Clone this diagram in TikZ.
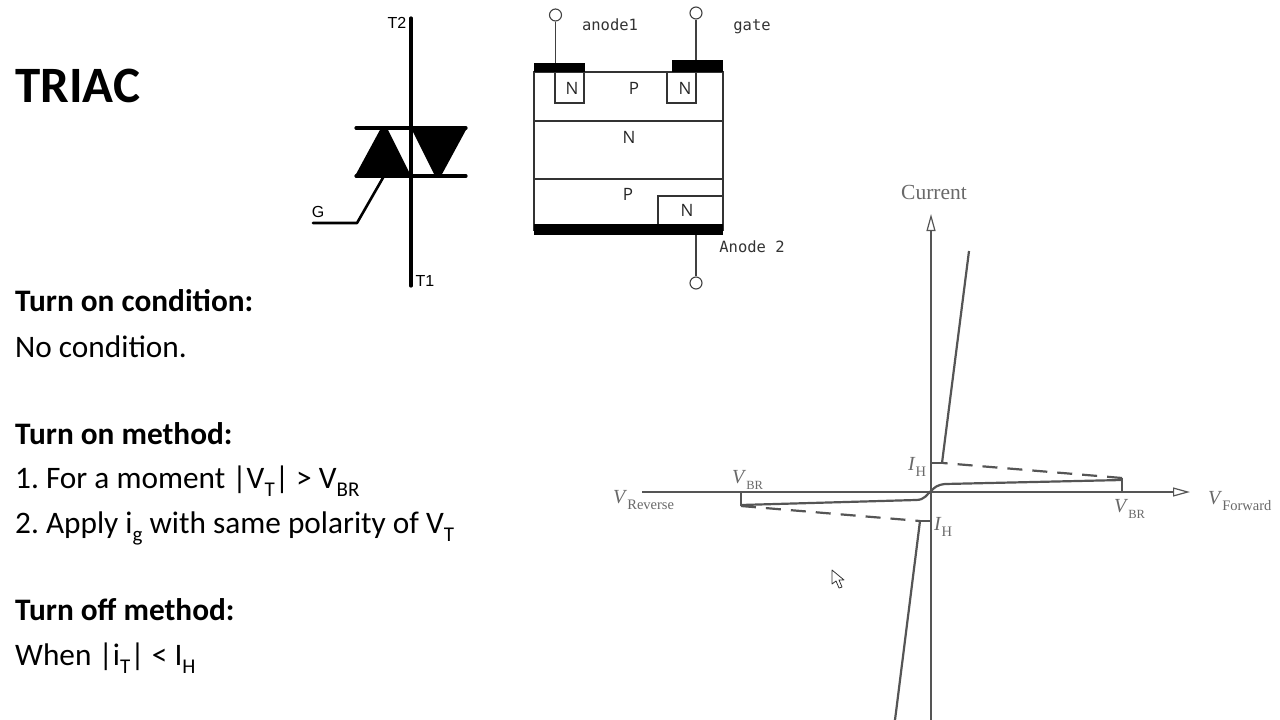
\documentclass[tikz,border=0pt]{standalone}
\usepackage{fontspec}
\usepackage{xcolor}
\setmainfont{Carlito}
\newfontfamily\labelfont{DejaVu Sans Mono}
\newfontfamily\regionfont{Open Sans}
\newfontfamily\symbfont{Liberation Sans}
\newfontfamily\plotfont{Liberation Serif}
\definecolor{plotgray}{RGB}{85,85,85}
\definecolor{plotlabel}{RGB}{105,105,105}
\usetikzlibrary{arrows.meta,positioning,calc}
\newcommand{\subtxt}[1]{\raisebox{-.28em}{\fontsize{21}{21}\selectfont #1}}
\newcommand{\plotsub}[3][14.5]{\textit{#2}\raisebox{-.3em}{\fontsize{#1}{#1}\selectfont #3}}
\frenchspacing

\begin{document}
\begin{tikzpicture}[
    x=1pt, y=-1pt,
    title/.style={anchor=base west, inner sep=0pt, font=\fontsize{51}{51}\selectfont\bfseries},
    heading/.style={anchor=base west, inner sep=0pt, font=\fontsize{31.3}{31.3}\selectfont\bfseries},
    body/.style={anchor=base west, inner sep=0pt, font=\fontsize{31.3}{31.3}\selectfont},
    symbtext/.style={inner sep=0pt, font=\fontsize{16}{16}\selectfont\symbfont},
    symbline/.style={line width=3.2pt, line cap=round},
    layer/.style={draw=black!80, line width=1.2pt},
    metal/.style={fill=black},
    lead/.style={draw=black!75, line width=1.3pt},
    pin/.style={circle, draw=black!75, line width=1.1pt, fill=white, minimum size=12pt, inner sep=0pt},
    regiontext/.style={inner sep=0pt, font=\fontsize{17}{17}\selectfont\regionfont, text=black!85},
    pintext/.style={anchor=base, inner sep=0pt, font=\fontsize{15.5}{15.5}\selectfont\labelfont, text=black!80},
    axis/.style={draw=plotgray, line width=1.2pt},
    openhead/.style={-{Triangle[open,length=17pt,width=9pt,line width=1.2pt]}},
    curve/.style={draw=plotgray, line width=2.2pt},
    plottext/.style={inner sep=0pt, text=plotlabel, font=\fontsize{20}{20}\selectfont\plotfont},
    dashcurve/.style={curve, dash pattern=on 15pt off 10pt}
]
\useasboundingbox (0,0) rectangle (1280,720);

% left column text
\node[title] (name) at (15,102) {TRIAC};
\node[heading] (oncond) at (15,311) {Turn on condition:};
\node[body] (nocond) at (15,357) {No condition.};
\node[heading] (onmeth) at (15,444) {Turn on method:};
\node[body] (methone) at (15,488) {1. For a moment |V\subtxt{T}| > V\subtxt{BR}};
\node[body] (methtwo) at (15,533) {2. Apply i\subtxt{g} with same polarity of V\subtxt{T}};
\node[heading] (offmeth) at (15,620) {Turn off method:};
\node[body] (offcond) at (15,665) {When |i\subtxt{T}| < I\subtxt{H}};

% triac symbol
\coordinate (tt) at (411,18);
\coordinate (tb) at (411,286);
\coordinate (gl) at (313,223);
\coordinate (gk) at (357,223);
\coordinate (gj) at (384,176);
\fill (381,128) -- (387,128) -- (411,176) -- (355,176) -- cycle;
\fill (411,128) -- (467,128) -- (441,176) -- (435,176) -- cycle;
\draw[symbline] (tt) -- (tb);
\draw[symbline] (356,128) -- (466,128);
\draw[symbline] (356,176) -- (466,176);
\draw[line width=2.6pt, line cap=round, line join=round] (gl) -- (gk) -- (gj);
\node[symbtext] (ttwo) at (397,23) {T2};
\node[symbtext] (tone) at (425,281) {T1};
\node[symbtext] (gname) at (318,212) {G};

% layer structure
\draw[layer] (534,72) rectangle (723,230);
\draw[layer] (534,121) -- (723,121);
\draw[layer] (534,179) -- (723,179);
\draw[layer] (555,72) |- (584,103) -- (584,72);
\draw[layer] (667,72) |- (696,103) -- (696,72);
\draw[layer] (723,196) -| (658,224);
\fill[metal] (534,63) rectangle (585,72);
\fill[metal] (672,60) rectangle (723,72);
\fill[metal] (534,224) rectangle (723,235);
\node[pin] (ptop) at (555.5,15) {};
\node[pin] (pgate) at (696,13) {};
\node[pin] (pbot) at (696,283) {};
\draw[lead] (ptop) -- (555.5,63);
\draw[lead] (pgate) -- (696,60);
\draw[lead] (pbot) -- (696,235);
\node[pintext] (anodeone) at (610,30) {anode1};
\node[pintext] (gatename) at (752,30) {gate};
\node[pintext] (anodetwo) at (752,252) {Anode 2};
\node[regiontext] (nleft) at (572,88) {N};
\node[regiontext] (ptopreg) at (634,88) {P};
\node[regiontext] (nright) at (685,88) {N};
\node[regiontext] (nmid) at (629,137) {N};
\node[regiontext] (pbotreg) at (628,194) {P};
\node[regiontext] (nbot) at (687,210) {N};

% characteristic
\coordinate (yfoot) at (931,720);
\coordinate (ytop) at (931,214);
\coordinate (xleft) at (642,492);
\coordinate (xright) at (1190,492);
\draw[axis,openhead] (yfoot) -- (ytop);
\draw[axis,openhead] (xleft) -- (xright);
\draw[axis] (931,463) -- (943,463);
\draw[axis] (920,521) -- (931,521);
\draw[axis] (1122,478) -- (1122,492);
\draw[axis] (741,492) -- (741,506);
\draw[curve, line join=round] (969,251) -- (942,463);
\draw[curve] (895,720) -- (920,521);
\draw[curve] (741,505) -- (916,500) .. controls (925,500) and (927,494) .. (931,491)
    .. controls (935,487) and (937,485) .. (945,484) -- (1122,480);
\draw[dashcurve] (1122,478) -- (943,463);
\draw[dashcurve] (741,506) -- (920,521);
\node[plottext, font=\fontsize{21.5}{21.5}\selectfont\plotfont] (curname) at (934,192) {Current};
\node[plottext, anchor=base west] (vrev) at (613,503) {\plotsub{V}{Reverse}};
\node[plottext, anchor=base west] (vbrl) at (732,483) {\plotsub[12.5]{V}{BR}};
\node[plottext, anchor=base west] (ihup) at (908,470) {\plotsub{I}{H}};
\node[plottext, anchor=base west] (ihdn) at (934,530) {\plotsub{I}{H}};
\node[plottext, anchor=base west] (vbrr) at (1114,512) {\plotsub[12.5]{V}{BR}};
\node[plottext, anchor=base west] (vfor) at (1208,504) {\plotsub{V}{Forward}};

% mouse pointer
\draw[fill=white, draw=black!80, line width=.8pt, line join=round] (832,570) -- (832,584) -- (836,581)
    -- (839,588) -- (842,587) -- (839,580) -- (844,580) -- cycle;
\end{tikzpicture}
\end{document}
